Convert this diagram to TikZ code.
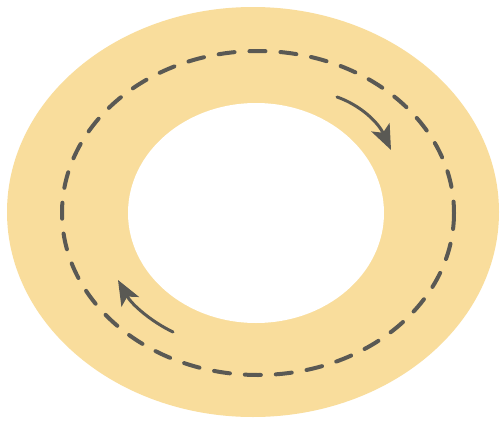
\documentclass[tikz,border=0pt]{standalone}
\usetikzlibrary{arrows.meta}
\definecolor{ringyellow}{HTML}{F9DD9C}
\definecolor{dashgray}{HTML}{5A5954}
\tikzset{
  ringdash/.style={draw=dashgray, line width=4pt, dash pattern=on 16pt off 15pt, line cap=round},
  flowarrow/.style={draw=dashgray, line width=3pt, line cap=round, -{Stealth[length=25pt,width=20pt,inset=6pt]}}
}
\begin{document}
\begin{tikzpicture}[x=1pt,y=-1pt]
\useasboundingbox (0,0) rectangle (501,423);
\fill[white] (0,0) rectangle (501,423);
\fill[ringyellow] (253,212) ellipse [x radius=246, y radius=205];
\fill[white] (256,213) ellipse [x radius=128, y radius=110];
\draw[ringdash] (258,213) ellipse [x radius=196, y radius=162];
\coordinate (a1s) at (337,97);
\coordinate (a1e) at (391,150);
\coordinate (a2s) at (173,332);
\coordinate (a2e) at (118,280);
\draw[flowarrow] (a1s) .. controls (360,105) and (378,122) .. (a1e);
\draw[flowarrow] (a2s) .. controls (152,322) and (132,305) .. (a2e);
\end{tikzpicture}
\end{document}
